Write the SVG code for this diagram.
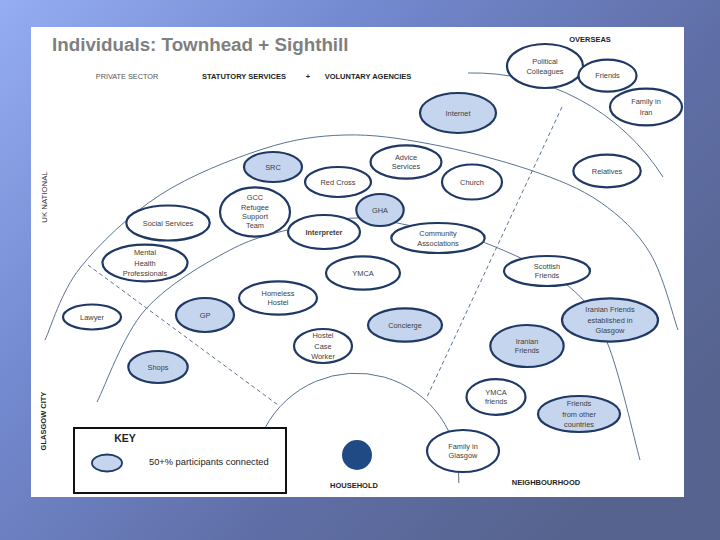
<svg xmlns="http://www.w3.org/2000/svg" width="720" height="540" viewBox="0 0 720 540">
<defs>
<linearGradient id="bg" x1="0" y1="0" x2="1" y2="0.7">
<stop offset="0" stop-color="#95adf2"/>
<stop offset="0.35" stop-color="#7389cf"/>
<stop offset="0.7" stop-color="#5f6ea6"/>
<stop offset="1" stop-color="#56638e"/>
</linearGradient>
<style>
.n ellipse{fill:#ffffff;stroke:#1f3864;stroke-width:2.2}
.n.b ellipse{fill:#c5d5ee}
.n text{font-family:"Liberation Sans",Arial,sans-serif;font-size:7.4px;fill:#404040;text-anchor:middle}
.arc{fill:none;stroke:#5a7394;stroke-width:1}
.dash{fill:none;stroke:#5a7394;stroke-width:1;stroke-dasharray:4 3}
.hd{font-family:"Liberation Sans",Arial,sans-serif;font-size:7.5px;fill:#222;font-weight:bold}
</style>
</defs>
<rect x="0" y="0" width="720" height="540" fill="url(#bg)"/>
<rect x="31" y="27" width="653" height="470" fill="#ffffff"/>
<text x="52" y="51" font-family="Liberation Sans,Arial,sans-serif" font-size="18.8" font-weight="bold" fill="#7f7f7f">Individuals: Townhead + Sighthill</text>
<text x="127" y="78.5" font-family="Liberation Sans,Arial,sans-serif" font-size="7.3" fill="#555" text-anchor="middle">PRIVATE SECTOR</text>
<text x="244" y="78.5" class="hd" text-anchor="middle">STATUTORY SERVICES</text>
<text x="308" y="78.5" class="hd" text-anchor="middle">+</text>
<text x="368" y="78.5" class="hd" text-anchor="middle">VOLUNTARY AGENCIES</text>
<text x="590" y="42" class="hd" text-anchor="middle">OVERSEAS</text>
<text x="354" y="488" class="hd" text-anchor="middle">HOUSEHOLD</text>
<text x="546" y="485" class="hd" text-anchor="middle">NEIGHBOURHOOD</text>
<text transform="translate(47,197) rotate(-90)" font-family="Liberation Sans,Arial,sans-serif" font-size="7.8" fill="#333" text-anchor="middle">UK NATIONAL</text>
<text transform="translate(46,421) rotate(-90)" class="hd" text-anchor="middle">GLASGOW CITY</text>

<g id="connectors">
<path class="arc" d="M468,73 A225,225 0 0 1 663,177"/>
<path class="arc" d="M45,340 C50.8,328 60.8,292.2 80,268 C99.2,243.8 129.5,214.8 160,195 C190.5,175.2 232.2,159 263,149 C293.8,139 317.2,135.8 345,135 C372.8,134.2 399.2,138.2 430,144 C460.8,149.8 501.7,160.3 530,170 C558.3,179.7 580,188.2 600,202 C620,215.8 637,231.7 650,253 C663,274.3 673.3,317.2 678,330"/>
<path class="arc" d="M97,402 C105,386.7 122.8,335.3 145,310 C167.2,284.7 204.2,263.8 230,250 C255.8,236.2 278.7,232.3 300,227 C321.3,221.7 338.5,218 358,218 C377.5,218 396.2,223 417,227 C437.8,231 458,232.3 483,242 C508,251.7 546.3,268.3 567,285 C587.7,301.7 594.8,312.8 607,342 C619.2,371.2 634.5,440.3 640,460"/>
<path class="arc" d="M265,428 A103,103 0 0 1 458.8,483"/>
<path class="dash" d="M88,265 L278,405"/>
<path class="dash" d="M562,107 L427,397"/>
</g>

<g id="household"><circle cx="357" cy="455" r="15" fill="#1f4a84"/></g>

<g id="political-colleagues" class="n"><ellipse cx="545" cy="66" rx="38" ry="22"/><text x="545" y="64.3">Political</text><text x="545" y="74">Colleagues</text></g>
<g id="friends-overseas" class="n"><ellipse cx="607.5" cy="75.7" rx="29" ry="16"/><text x="607.5" y="78.4">Friends</text></g>
<g id="family-iran" class="n"><ellipse cx="646" cy="107" rx="36" ry="18.3"/><text x="646" y="104.3">Family in</text><text x="646" y="115">Iran</text></g>
<g id="internet" class="n b"><ellipse cx="458" cy="113" rx="38" ry="20"/><text x="458" y="115.8">Internet</text></g>
<g id="src" class="n b"><ellipse cx="273" cy="167" rx="29" ry="15"/><text x="273" y="169.7">SRC</text></g>
<g id="red-cross" class="n"><ellipse cx="338" cy="182" rx="33" ry="15"/><text x="338" y="184.7">Red Cross</text></g>
<g id="advice-services" class="n"><ellipse cx="406" cy="162" rx="35.5" ry="16.7"/><text x="406" y="159.6">Advice</text><text x="406" y="169.4">Services</text></g>
<g id="church" class="n"><ellipse cx="472" cy="182" rx="30" ry="17.5"/><text x="472" y="184.7">Church</text></g>
<g id="relatives" class="n"><ellipse cx="607" cy="171" rx="33.7" ry="16.3"/><text x="607" y="173.7">Relatives</text></g>
<g id="gcc-refugee" class="n"><ellipse cx="255" cy="212" rx="35" ry="24.7"/><text x="255" y="200.4">GCC</text><text x="255" y="209.7">Refugee</text><text x="255" y="219">Support</text><text x="255" y="228.3">Team</text></g>
<g id="social-services" class="n"><ellipse cx="168" cy="223" rx="41.7" ry="17.5"/><text x="168" y="225.7">Social Services</text></g>
<g id="interpreter" class="n"><ellipse cx="324" cy="232" rx="36" ry="17"/><text x="324" y="234.7" font-weight="bold">Interpreter</text></g>
<g id="gha" class="n b"><ellipse cx="380" cy="210" rx="23.7" ry="16"/><text x="380" y="212.7">GHA</text></g>
<g id="community-associations" class="n"><ellipse cx="438" cy="238" rx="46.7" ry="15"/><text x="438" y="236.2">Community</text><text x="438" y="245.6">Associations</text></g>
<g id="mental-health" class="n"><ellipse cx="145" cy="263" rx="42.5" ry="18.3"/><text x="145" y="255.4">Mental</text><text x="145" y="265.6">Health</text><text x="145" y="275.8">Professionals</text></g>
<g id="ymca" class="n"><ellipse cx="363" cy="273" rx="37" ry="16.7"/><text x="363" y="275.7">YMCA</text></g>
<g id="scottish-friends" class="n"><ellipse cx="547" cy="271" rx="43" ry="15"/><text x="547" y="268.8">Scottish</text><text x="547" y="278.4">Friends</text></g>
<g id="homeless-hostel" class="n"><ellipse cx="278" cy="298" rx="39" ry="16.7"/><text x="278" y="295.8">Homeless</text><text x="278" y="305.4">Hostel</text></g>
<g id="lawyer" class="n"><ellipse cx="92" cy="317" rx="29" ry="12.5"/><text x="92" y="319.7">Lawyer</text></g>
<g id="gp" class="n b"><ellipse cx="205" cy="315" rx="29" ry="17"/><text x="205" y="317.7">GP</text></g>
<g id="concierge" class="n b"><ellipse cx="405" cy="325" rx="37" ry="16.7"/><text x="405" y="327.7">Concierge</text></g>
<g id="iranian-friends-established" class="n b"><ellipse cx="610" cy="320" rx="48" ry="21.7"/><text x="610" y="312.4">Iranian Friends</text><text x="610" y="322.7">established in</text><text x="610" y="333">Glasgow</text></g>
<g id="hostel-case-worker" class="n"><ellipse cx="323" cy="346" rx="29" ry="17"/><text x="323" y="338.4">Hostel</text><text x="323" y="348.7">Case</text><text x="323" y="359">Worker</text></g>
<g id="iranian-friends" class="n b"><ellipse cx="527" cy="346" rx="36.7" ry="21"/><text x="527" y="343.8">Iranian</text><text x="527" y="353.4">Friends</text></g>
<g id="shops" class="n b"><ellipse cx="158" cy="367" rx="29.7" ry="16"/><text x="158" y="369.7">Shops</text></g>
<g id="ymca-friends" class="n"><ellipse cx="496" cy="397" rx="29.5" ry="17.8"/><text x="496" y="394.8">YMCA</text><text x="496" y="404.4">friends</text></g>
<g id="friends-other-countries" class="n b"><ellipse cx="579" cy="414" rx="41" ry="18"/><text x="579" y="406.4">Friends</text><text x="579" y="416.6">from other</text><text x="579" y="426.8">countries</text></g>
<g id="family-glasgow" class="n"><ellipse cx="463" cy="451" rx="36" ry="21"/><text x="463" y="448.8">Family in</text><text x="463" y="458.4">Glasgow</text></g>

<g id="key">
<rect x="74" y="428" width="212" height="65" fill="#ffffff" stroke="#111" stroke-width="2"/>
<text x="125" y="442" font-family="Liberation Sans,Arial,sans-serif" font-size="10.5" font-weight="bold" fill="#222" text-anchor="middle">KEY</text>
<ellipse cx="107" cy="463" rx="15" ry="8.5" fill="#c5d5ee" stroke="#1f3864" stroke-width="1.8"/>
<text x="149" y="465.3" font-family="Liberation Sans,Arial,sans-serif" font-size="9.3" fill="#222">50+% participants connected</text>
</g>
</svg>
